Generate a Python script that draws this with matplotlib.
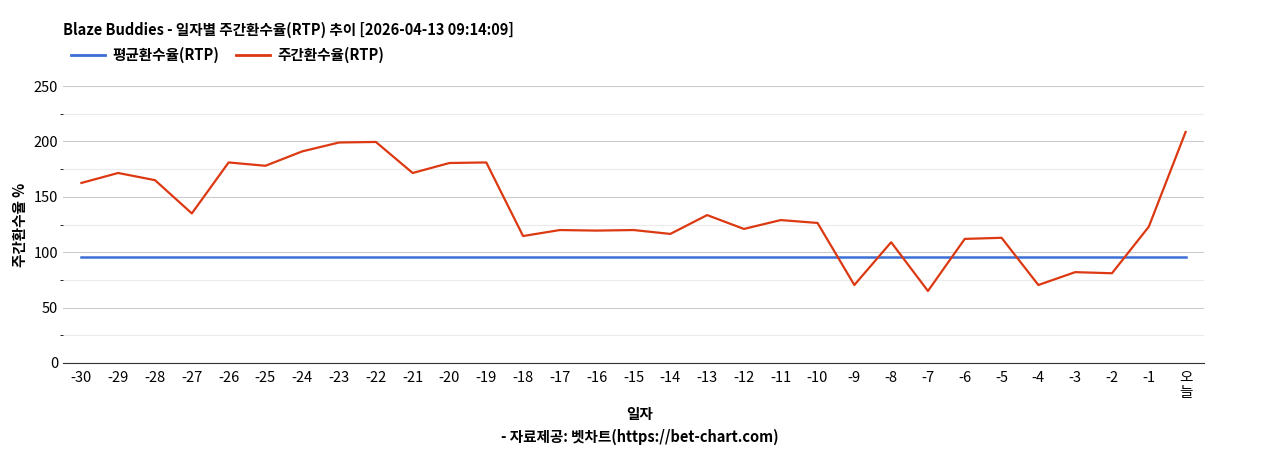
import matplotlib.pyplot as plt
from matplotlib.lines import Line2D

plt.rcParams['font.family'] = ['Noto Sans CJK KR', 'DejaVu Sans']

days = [str(d) for d in range(-30, 0)] + ['오\n늘']
rtp = [162.5, 171.5, 165, 135, 181, 178, 191, 199, 199.5, 171.5, 180.5, 181,
       114.6, 120, 119.5, 120, 116.5, 133.5, 121, 129, 126.4, 70.4, 109, 65,
       112, 113, 70.4, 82, 81, 123, 208.5]
avg_rtp = [95.7] * len(days)

fig = plt.figure(figsize=(12.68, 4.5), dpi=100)
ax = fig.add_axes([63/1268, 1-363/450, (1204-63)/1268, (363-86)/450])
x = list(range(len(days)))
ax.plot(x, avg_rtp, color='#3c6fd6', lw=1.8)
ax.plot(x, rtp, color='#dc3912', lw=1.6)

ax.set_xlim(-0.5, 30.5)
ax.set_ylim(0, 250)
ax.set_yticks([0, 50, 100, 150, 200, 250])
ax.set_yticks([25, 75, 125, 175, 225], minor=True)
ax.grid(axis='y', which='major', color='#cccccc', lw=0.8)
ax.grid(axis='y', which='minor', color='#ebebeb', lw=0.8)
ax.set_axisbelow(True)
ax.set_xticks(x)
ax.set_xticklabels(days, fontsize=10.5, va='top', linespacing=1.1)
ax.tick_params(axis='both', length=0, labelsize=10.5)
ax.tick_params(axis='x', pad=6)
for s in ['top', 'right', 'left']:
    ax.spines[s].set_visible(False)
ax.spines['bottom'].set_color('#333333')

ax.set_ylabel('주간환수율 %', fontsize=10.5, fontweight='bold')
fig.text(640/1268, 1-414/450, '일자', ha='center', va='center', fontsize=10.5, fontweight='bold')
fig.text(640/1268, 1-437/450, '- 자료제공: 벳차트(https://bet-chart.com)', ha='center', va='center',
         fontsize=10.5, fontweight='bold')
fig.text(63/1268, 1-30/450, 'Blaze Buddies - 일자별 주간환수율(RTP) 추이 [2026-04-13 09:14:09]',
         ha='left', va='center', fontsize=10.5, fontweight='bold')

handles = [Line2D([], [], color='#3c6fd6', lw=2), Line2D([], [], color='#dc3912', lw=2)]
fig.legend(handles, ['평균환수율(RTP)', '주간환수율(RTP)'], loc='center left',
           bbox_to_anchor=(58/1268, 1-55/450), ncol=2, frameon=False,
           prop={'size': 10.5, 'weight': 'bold'}, handlelength=2.3, columnspacing=1.2,
           handletextpad=0.5)

fig.savefig('out.png', dpi=100)
